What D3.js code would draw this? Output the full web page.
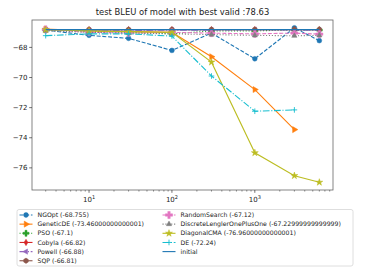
<!DOCTYPE html>
<html>
<head>
<meta charset="utf-8">
<script src="https://cdn.jsdelivr.net/npm/d3@7"></script>
<style>
  body { margin: 0; background: #fff; }
  svg { display: block; font-family: 'DejaVu Sans', sans-serif; }
</style>
</head>
<body>
<svg id="chart" width="374" height="280"></svg>
<script>
'use strict';

// budgets on the x axis
const budgets = [3, 10, 30, 100, 300, 1000, 3000, 6000];

const ngopt = [-66.85, -67.2, -67.4, -68.2, -67.05, -68.755, -66.7, -67.55];
const geneticDE = [-66.78, -66.9, -66.95, -67.0, -68.62, -70.8, -73.46, null];
const pso = [-66.85, -66.95, -67.0, -67.1, -66.9, -66.9, -66.85, -66.85];
const cobyla = [-66.82, -66.82, -66.82, -66.82, -66.82, -66.82, -66.82, -66.82];
const powell = [-66.82, -66.85, -66.88, -66.85, -66.85, -66.82, -66.85, -66.85];
const sqp = [-66.81, -66.81, -66.81, -66.81, -66.81, -66.81, -66.81, -66.81];
const randomSearch = [-66.8, -67.0, -67.05, -67.0, -67.05, -67.1, -67.05, -67.12];
const lengler = [-66.9, -67.0, -67.05, -67.1, -67.15, -67.2, -67.23, -67.2];
const diagonalCMA = [-66.82, -66.9, -66.95, -67.0, -68.98, -75.0, -76.52, -76.96];
const de = [-67.22, -67.1, -67.1, -67.25, -69.9, -72.24, -72.15, null];
const initial = [-66.82, -66.82, -66.82, -66.82, -66.82, -66.82, -66.82, -66.82];

const yTicks = [-68, -70, -72, -74, -76];
const xTicks = [10, 100, 1000];

const series = [
  { name: 'NGOpt (-68.755)', values: ngopt, color: '#1f77b4', dash: '4,1.7', marker: 'circle' },
  { name: 'GeneticDE (-73.46000000000001)', values: geneticDE, color: '#ff7f0e', dash: null, marker: 'triRight' },
  { name: 'PSO (-67.1)', values: pso, color: '#2ca02c', dash: '1.1,1.8', marker: 'plusFilled' },
  { name: 'Cobyla (-66.82)', values: cobyla, color: '#d62728', dash: null, marker: 'thinDiamond' },
  { name: 'Powell (-66.88)', values: powell, color: '#9467bd', dash: '6.7,1.7,1.1,1.7', marker: 'triLeft' },
  { name: 'SQP (-66.81)', values: sqp, color: '#8c564b', dash: null, marker: 'hexagon' },
  { name: 'RandomSearch (-67.12)', values: randomSearch, color: '#e377c2', dash: '4,1.7', marker: 'plusBig' },
  { name: 'DiscreteLenglerOnePlusOne (-67.22999999999999)', values: lengler, color: '#7f7f7f', dash: '1.1,1.8', marker: 'triUp' },
  { name: 'DiagonalCMA (-76.96000000000001)', values: diagonalCMA, color: '#bcbd22', dash: null, marker: 'star' },
  { name: 'DE (-72.24)', values: de, color: '#17becf', dash: '6.7,1.7,1.1,1.7', marker: 'plus' },
  { name: 'initial', values: initial, color: '#1f77b4', dash: null, marker: null }
];

const svg = d3.select('#chart');
const mLeft = 32, mRight = 333, mTop = 20, mBottom = 190;

const x = d3.scaleLog().domain([Math.pow(10, 0.312), Math.pow(10, 3.943)]).range([mLeft, mRight]);
const y = d3.scaleLinear().domain([-77.47, -66.18]).range([mBottom, mTop]);

// custom symbol types
const hexagon = {
  draw(ctx, size) {
    const r = Math.sqrt(size / 2.598);
    for (let i = 0; i < 6; i++) {
      const a = Math.PI / 3 * i - Math.PI / 2;
      if (i === 0) ctx.moveTo(r * Math.cos(a), r * Math.sin(a));
      else ctx.lineTo(r * Math.cos(a), r * Math.sin(a));
    }
    ctx.closePath();
  }
};
const thinDiamond = {
  draw(ctx, size) {
    const r = Math.sqrt(size) * 0.75;
    ctx.moveTo(0, -r);
    ctx.lineTo(r * 0.6, 0);
    ctx.lineTo(0, r);
    ctx.lineTo(-r * 0.6, 0);
    ctx.closePath();
  }
};

function markerPath(kind) {
  switch (kind) {
    case 'circle': return { d: d3.symbol(d3.symbolCircle, 18)(), rot: 0, fill: true };
    case 'triRight': return { d: d3.symbol(d3.symbolTriangle, 16)(), rot: 90, fill: true };
    case 'triLeft': return { d: d3.symbol(d3.symbolTriangle, 12)(), rot: -90, fill: true };
    case 'triUp': return { d: d3.symbol(d3.symbolTriangle, 12)(), rot: 0, fill: true };
    case 'plusFilled': return { d: d3.symbol(d3.symbolCross, 20)(), rot: 0, fill: true };
    case 'plusBig': return { d: d3.symbol(d3.symbolCross, 28)(), rot: 0, fill: true };
    case 'thinDiamond': return { d: d3.symbol(thinDiamond, 18)(), rot: 0, fill: true };
    case 'hexagon': return { d: d3.symbol(hexagon, 18)(), rot: 0, fill: true };
    case 'star': return { d: d3.symbol(d3.symbolStar, 15)(), rot: 0, fill: true };
    case 'plus': return { d: d3.symbol(d3.symbolPlus, 12)(), rot: 0, fill: false };
    default: return null;
  }
}

// axes frame
svg.append('rect')
  .attr('x', mLeft).attr('y', mTop)
  .attr('width', mRight - mLeft).attr('height', mBottom - mTop)
  .attr('fill', 'none').attr('stroke', '#666').attr('stroke-width', 0.8);

// plotted lines
const plot = svg.append('g');
series.forEach(s => {
  const pts = budgets.map((b, i) => [b, s.values[i]]).filter(p => p[1] !== null);
  const line = d3.line().x(p => x(p[0])).y(p => y(p[1]));
  plot.append('path')
    .attr('d', line(pts))
    .attr('fill', 'none')
    .attr('stroke', s.color)
    .attr('stroke-width', 1.1)
    .attr('stroke-dasharray', s.dash);
  const m = markerPath(s.marker);
  if (m) {
    plot.selectAll(null)
      .data(pts)
      .join('path')
      .attr('d', m.d)
      .attr('transform', p => `translate(${x(p[0])},${y(p[1])}) rotate(${m.rot})`)
      .attr('fill', m.fill ? s.color : 'none')
      .attr('stroke', s.color)
      .attr('stroke-width', m.fill ? 0.5 : 0.9);
  }
});

// y axis
const yAxis = svg.append('g');
yTicks.forEach(t => {
  yAxis.append('line')
    .attr('x1', mLeft - 2.8).attr('x2', mLeft)
    .attr('y1', y(t)).attr('y2', y(t))
    .attr('stroke', '#333').attr('stroke-width', 0.7);
  yAxis.append('text')
    .attr('x', mLeft - 4.5).attr('y', y(t))
    .attr('dy', '0.35em')
    .attr('text-anchor', 'end')
    .attr('font-size', 7)
    .attr('fill', '#222')
    .text('\u2212' + Math.abs(t));
});

// x axis (log, major + minor ticks)
const xAxis = svg.append('g');
const [d0, d1] = x.domain();
for (let e = 0; e <= 3; e++) {
  for (let k = 1; k <= 9; k++) {
    const v = k * Math.pow(10, e);
    if (v < d0 || v > d1) continue;
    const major = k === 1;
    xAxis.append('line')
      .attr('x1', x(v)).attr('x2', x(v))
      .attr('y1', mBottom).attr('y2', mBottom + (major ? 2.8 : 1.6))
      .attr('stroke', '#333').attr('stroke-width', major ? 0.7 : 0.5);
  }
}
xTicks.forEach(t => {
  const lbl = xAxis.append('text')
    .attr('x', x(t)).attr('y', mBottom + 12)
    .attr('text-anchor', 'middle')
    .attr('font-size', 7)
    .attr('fill', '#222');
  lbl.append('tspan').text('10');
  lbl.append('tspan').attr('dy', -3).attr('font-size', 5).text(Math.round(Math.log10(t)));
});

// title
svg.append('text')
  .attr('x', (mLeft + mRight) / 2).attr('y', 15)
  .attr('text-anchor', 'middle')
  .attr('font-size', 8.4)
  .attr('fill', '#222')
  .text('test BLEU of model with best valid :78.63');

// legend
const legend = svg.append('g');
legend.append('rect')
  .attr('x', 17).attr('y', 209.5)
  .attr('width', 336).attr('height', 56.5)
  .attr('rx', 2)
  .attr('fill', '#fff').attr('stroke', '#d6d6d6').attr('stroke-width', 0.8);

series.forEach((s, i) => {
  const col = i < 6 ? 0 : 1;
  const row = col === 0 ? i : i - 6;
  const hx = col === 0 ? 19.5 : 162.5;
  const ly = 215 + row * 9.15;
  const g = legend.append('g');
  g.append('line')
    .attr('x1', hx).attr('x2', hx + 13)
    .attr('y1', ly).attr('y2', ly)
    .attr('stroke', s.color).attr('stroke-width', 1.1)
    .attr('stroke-dasharray', s.dash);
  const m = markerPath(s.marker);
  if (m) {
    g.append('path')
      .attr('d', m.d)
      .attr('transform', `translate(${hx + 6.5},${ly}) rotate(${m.rot})`)
      .attr('fill', m.fill ? s.color : 'none')
      .attr('stroke', s.color)
      .attr('stroke-width', m.fill ? 0.5 : 0.9);
  }
  g.append('text')
    .attr('x', hx + 18).attr('y', ly)
    .attr('dy', '0.35em')
    .attr('font-size', 6.2)
    .attr('fill', '#222')
    .text(s.name);
});
</script>
</body>
</html>
